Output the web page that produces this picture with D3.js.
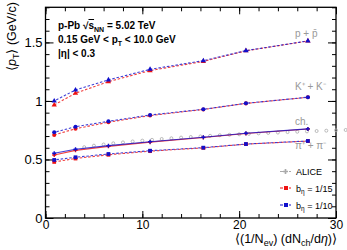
<!DOCTYPE html>
<html><head><meta charset="utf-8">
<script src="https://cdn.jsdelivr.net/npm/d3@7"></script>
<style>body{margin:0;background:#fff}svg{display:block;font-family:"Liberation Sans",Arial,sans-serif}</style>
</head><body><svg id="c" width="347" height="250"></svg>
<script>
const xVals = [0.9, 3.1, 6.5, 10.8, 16.3, 20.7, 27.1];
const protonRed = [0.966, 1.066, 1.165, 1.259, 1.338, 1.428, 1.512];
const protonBlue = [1.000, 1.094, 1.180, 1.270, 1.344, 1.430, 1.513];
const kaonRed = [0.709, 0.763, 0.818, 0.875, 0.927, 0.979, 1.031];
const kaonBlue = [0.732, 0.780, 0.826, 0.880, 0.929, 0.980, 1.032];
const chRed = [0.538, 0.578, 0.612, 0.648, 0.688, 0.722, 0.760];
const chBlue = [0.553, 0.587, 0.618, 0.652, 0.690, 0.724, 0.761];
const pionRed = [0.479, 0.508, 0.540, 0.571, 0.599, 0.631, 0.657];
const pionBlue = [0.496, 0.519, 0.547, 0.575, 0.601, 0.632, 0.658];
const aliceX = [4,5,6,7,8,9,10,11,12,13,14,15,16,17,18,19,20,21,22,23,24,25,26,27,28,29,30,31];
const aliceY = [0.605,0.618,0.628,0.638,0.646,0.654,0.661,0.668,0.675,0.681,0.687,0.692,0.697,0.702,0.707,0.711,0.715,0.719,0.723,0.727,0.730,0.734,0.737,0.740,0.743,0.746,0.749,0.752];
const xTicks = [0, 10, 20, 30];
const yTicks = [0, 0.5, 1, 1.5];
const seriesLabels = ["p + p\u0304", "K\u207A + K\u207B", "ch.", "\u03C0\u207A + \u03C0\u207B"];

const svg = d3.select("#c");
const L = 45.5, R = 336, T = 7.3, B = 218;
const x = d3.scaleLinear().domain([0, 30]).range([L, R]);
const y = d3.scaleLinear().domain([0, 1.8]).range([B, T]);

// frame & ticks
const g = svg.append("g");
const axB = d3.axisBottom(x).tickValues(xTicks).tickSize(-7).tickFormat(d3.format("d"));
const axBm = d3.axisBottom(x).tickValues(d3.range(0, 30.1, 2)).tickSize(-4).tickFormat("");
const axT = d3.axisTop(x).tickValues(xTicks).tickSize(-7).tickFormat("");
const axTm = d3.axisTop(x).tickValues(d3.range(0, 30.1, 2)).tickSize(-4).tickFormat("");
const axL = d3.axisLeft(y).tickValues(yTicks).tickSize(-8).tickFormat(d => d === 0 ? "0" : d3.format("~g")(d));
const axLm = d3.axisLeft(y).tickValues(d3.range(0, 1.81, 0.1)).tickSize(-4).tickFormat("");
const axR = d3.axisRight(y).tickValues(yTicks).tickSize(-8).tickFormat("");
const axRm = d3.axisRight(y).tickValues(d3.range(0, 1.81, 0.1)).tickSize(-4).tickFormat("");
const gB = g.append("g").attr("transform", `translate(0,${B})`);
gB.append("g").call(axBm);
const gBt = gB.append("g").call(axB);
g.append("g").attr("transform", `translate(0,${T})`).call(axTm);
g.append("g").attr("transform", `translate(0,${T})`).call(axT);
g.append("g").attr("transform", `translate(${L},0)`).call(axLm);
const gL = g.append("g").attr("transform", `translate(${L},0)`).call(axL);
g.append("g").attr("transform", `translate(${R},0)`).call(axRm);
g.append("g").attr("transform", `translate(${R},0)`).call(axR);
g.selectAll(".domain").remove();
g.selectAll(".tick line").attr("stroke", "#000").attr("stroke-width", 1);
g.selectAll("text").attr("font-size", 12.5).attr("fill", "#000").attr("font-family", "Liberation Sans, Arial, sans-serif");
gBt.selectAll(".tick text").attr("y", 1.5).attr("dy", "0.75em").attr("font-size", 12);
gL.selectAll(".tick text").attr("x", -3).attr("font-size", 13);
svg.append("rect").attr("x", L).attr("y", T).attr("width", R - L).attr("height", B - T)
  .attr("fill", "none").attr("stroke", "#000").attr("stroke-width", 1.3);

// ALICE points (unclipped)
svg.append("g").selectAll("circle").data(aliceX).join("circle")
  .attr("cx", (d) => x(d)).attr("cy", (d, i) => y(aliceY[i])).attr("r", 1.5)
  .attr("fill", "none").attr("stroke", "#aaa").attr("stroke-width", 0.8);

const line = d3.line().x((d, i) => x(xVals[i])).y(d => y(d));
const RED = "#ee1111", BLUE = "#1010cc";
const groups = [
  {r: protonRed, b: protonBlue, dash: "2.5,1.8", m: d3.symbolTriangle, s: 12},
  {r: kaonRed, b: kaonBlue, dash: "2.5,1.8", m: d3.symbolCircle, s: 13},
  {r: chRed, b: chBlue, dash: null, m: d3.symbolCross, s: 9},
  {r: pionRed, b: pionBlue, dash: "2.5,1.8", m: d3.symbolSquare, s: 14}
];
groups.forEach(gr => {
  [[gr.r, RED, 0], [gr.b, BLUE, 1]].forEach(([vals, col, k]) => {
    svg.append("path").datum(vals).attr("d", line).attr("fill", "none")
      .attr("stroke", col).attr("stroke-width", 1.1).attr("opacity", 0.8)
      .attr("stroke-dasharray", gr.dash).attr("stroke-dashoffset", k * 2.1);
    svg.append("g").selectAll("path").data(vals).join("path")
      .attr("d", d3.symbol().type(gr.m).size(gr.s))
      .attr("transform", (d, i) => `translate(${x(xVals[i])},${y(d)})`)
      .attr("fill", col);
  });
});

// series labels
const labY = [37, 90, 125, 149];
seriesLabels.forEach((t, i) => {
  svg.append("text").attr("x", 295).attr("y", labY[i]).attr("text-anchor", "start")
    .attr("font-size", 10).attr("fill", "#999").text(t);
});

// header text
const hdr = svg.append("g").attr("font-size", 10).attr("font-weight", "bold").attr("fill", "#000");
const t1 = hdr.append("text").attr("x", 58).attr("y", 29);
t1.append("tspan").text("p-Pb  \u221A");
t1.append("tspan").attr("text-decoration", "overline").text("s");
t1.append("tspan").attr("font-size", 7).attr("dy", 3).text("NN");
t1.append("tspan").attr("dy", -3).text(" = 5.02 TeV");
const t2 = hdr.append("text").attr("x", 58).attr("y", 43);
t2.append("tspan").text("0.15 GeV < p");
t2.append("tspan").attr("font-size", 7).attr("dy", 3).text("T");
t2.append("tspan").attr("dy", -3).text(" < 10.0 GeV");
hdr.append("text").attr("x", 58).attr("y", 57).text("|\u03B7| < 0.3");

// legend
const leg = [
  {c: "#aaa", t: "ALICE", sub: null, y: 171.5},
  {c: RED, t: "b", sub: "\u03B7", rest: " = 1/15", y: 188},
  {c: BLUE, t: "b", sub: "\u03B7", rest: " = 1/10", y: 205}
];
leg.forEach((d, i) => {
  svg.append("line").attr("x1", 280).attr("x2", 291).attr("y1", d.y).attr("y2", d.y)
    .attr("stroke", d.c).attr("stroke-width", 1).attr("stroke-dasharray", "3,1.5");
  if (i === 0) {
    svg.append("path").attr("d", d3.symbol().type(d3.symbolCross).size(14)).attr("transform", `translate(285.5,${d.y})`).attr("fill", d.c);
  } else {
    svg.append("path").attr("d", d3.symbol().type(d3.symbolSquare).size(16)).attr("transform", `translate(286,${d.y})`).attr("fill", d.c);
  }
  const tx = svg.append("text").attr("x", 296).attr("y", d.y + 3.5).attr("font-size", 9).attr("fill", "#000");
  tx.append("tspan").text(d.t);
  if (d.sub) {
    tx.append("tspan").attr("font-size", 6.5).attr("dy", 2).text(d.sub);
    tx.append("tspan").attr("dy", -2).text(d.rest);
  }
});

// axis titles
const xt = svg.append("text").attr("x", 337).attr("y", 243).attr("text-anchor", "end").attr("font-size", 12.5).attr("fill", "#000");
xt.append("tspan").text("\u27E8(1/N");
xt.append("tspan").attr("font-size", 9).attr("dy", 3).text("ev");
xt.append("tspan").attr("dy", -3).text(") (dN");
xt.append("tspan").attr("font-size", 9).attr("dy", 3).text("ch");
xt.append("tspan").attr("dy", -3).text("/d");
xt.append("tspan").attr("font-style", "italic").text("\u03B7");
xt.append("tspan").text(")\u27E9");

const yt = svg.append("text").attr("transform", "translate(16,2) rotate(-90)").attr("text-anchor", "end")
  .attr("font-size", 12.5).attr("fill", "#000");
yt.append("tspan").text("\u27E8");
yt.append("tspan").attr("font-style", "italic").text("p");
yt.append("tspan").attr("font-size", 9).attr("dy", 3).text("T");
yt.append("tspan").attr("dy", -3).text("\u27E9 (GeV/c)");
</script></body></html>
